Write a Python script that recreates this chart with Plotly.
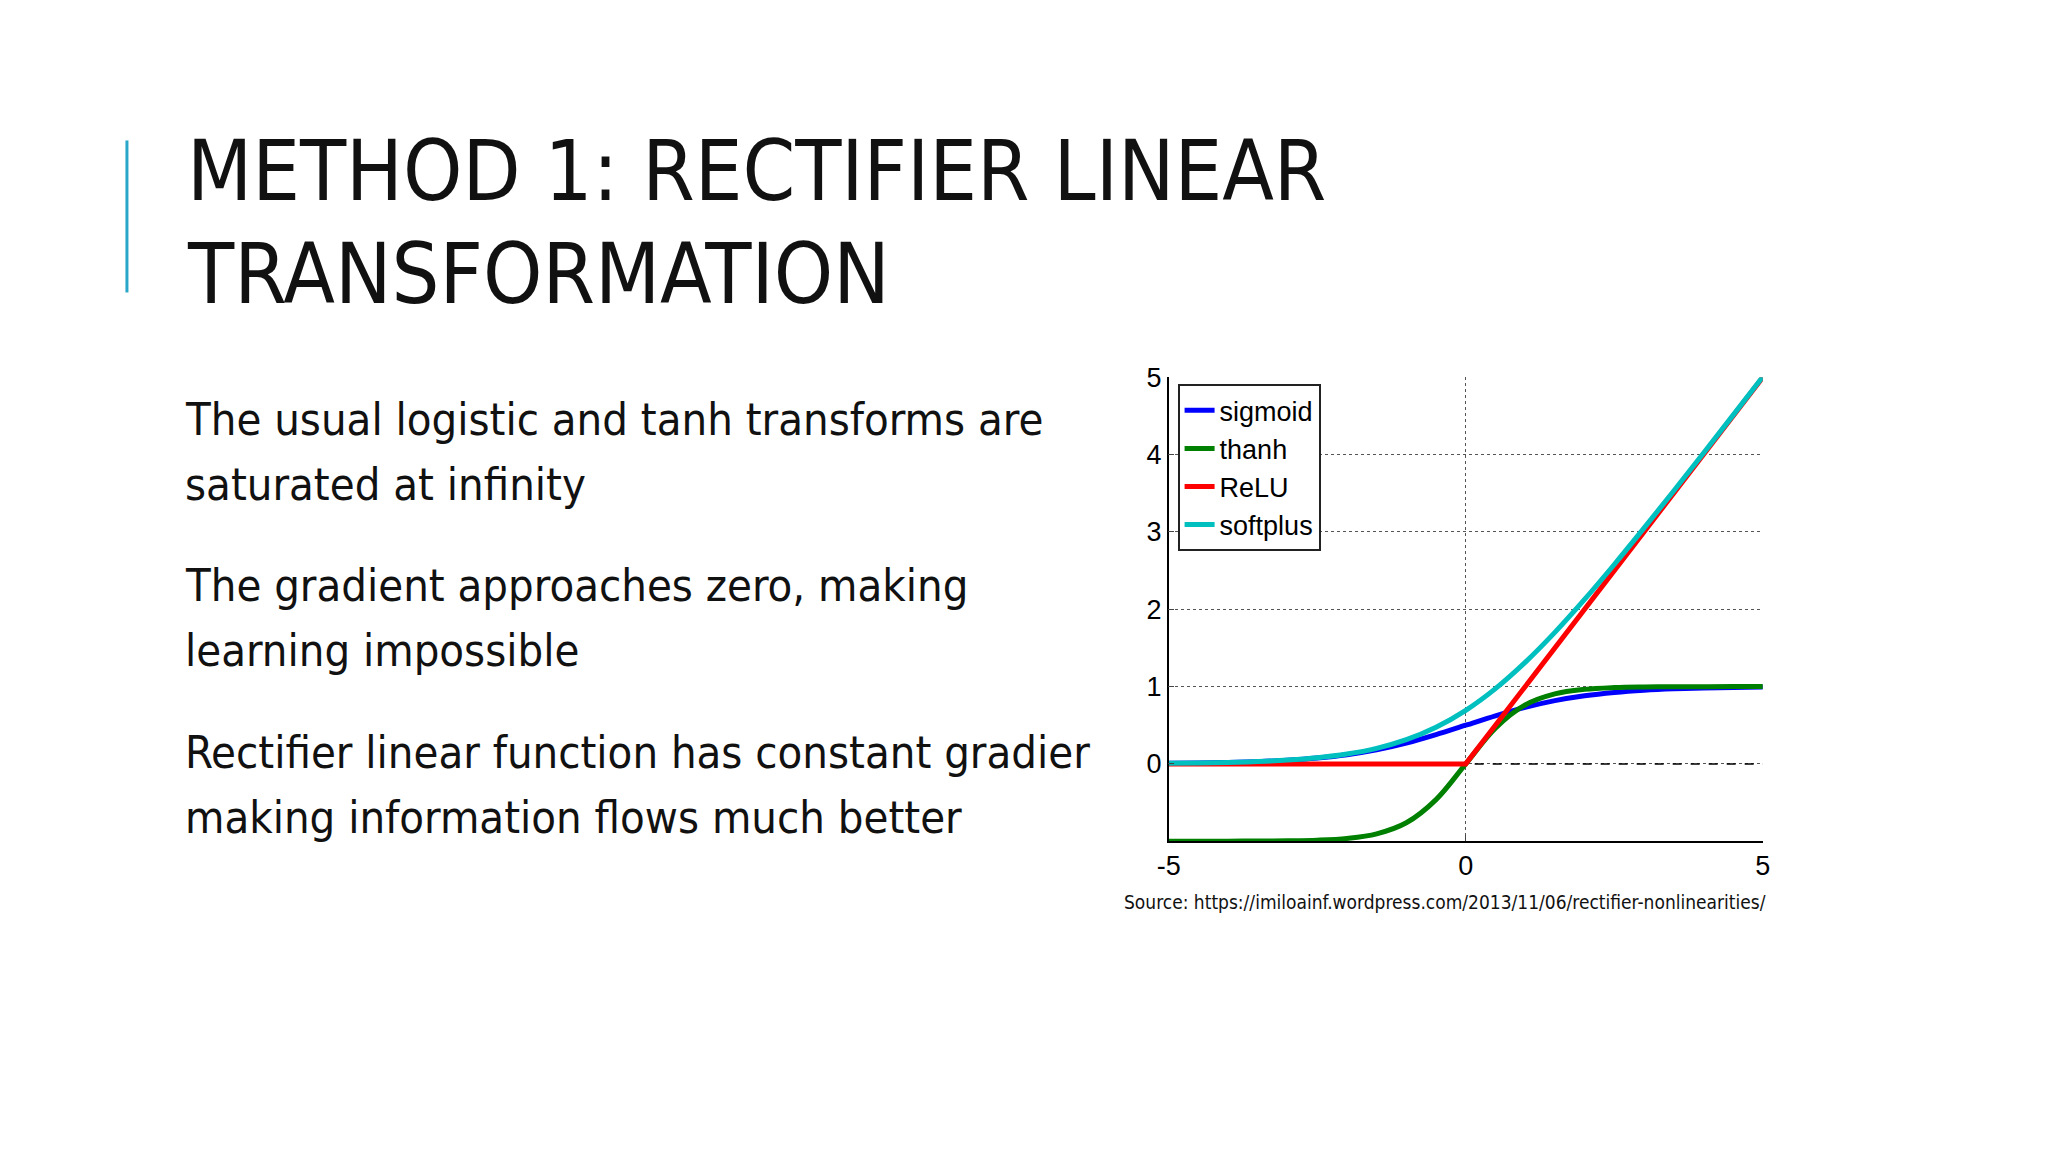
import plotly.graph_objects as go

x_s = [-5,-4.5,-4,-3.5,-3,-2.5,-2,-1.5,-1,-0.5,0,0.5,1,1.5,2,2.5,3,3.5,4,4.5,5]
sigmoid = [.007,.011,.018,.029,.047,.076,.119,.182,.269,.378,.5,.622,.731,.818,.881,.924,.953,.971,.982,.989,.993]
thanh = [-1.0,-1.0,-.999,-.998,-.995,-.987,-.964,-.905,-.762,-.462,0,.462,.762,.905,.964,.987,.995,.998,.999,1.0,1.0]
x_relu = [-5,0,5]
relu = [0,0,5]
softplus = [.007,.011,.018,.030,.049,.079,.127,.201,.313,.474,.693,.974,1.313,1.701,2.127,2.579,3.049,3.530,4.018,4.511,5.007]
x_ticks = [-5, 0, 5]
x_labels = ["-5", "0", "5"]
y_ticks = [0, 1, 2, 3, 4, 5]

W, H = 2048, 1152
DX, DY = 21, 20
fig = go.Figure()
fig.add_trace(go.Scatter(x=[-5,5], y=[0,0], mode="lines", line=dict(color="black", width=1.5, dash="dash"), showlegend=False))
for name, xs, ys, col in [("sigmoid", x_s, sigmoid, "#0000ff"), ("thanh", x_s, thanh, "#008000"),
                          ("ReLU", x_relu, relu, "#ff0000"), ("softplus", x_s, softplus, "#00bfbf")]:
    fig.add_trace(go.Scatter(x=xs, y=ys, name=name, mode="lines",
                             line=dict(color=col, width=5, shape="spline" if len(xs) > 3 else "linear")))

axis_font = dict(family="Liberation Sans, Arial", size=27, color="black")
x0p, x1p = (1181-DX)/W, (1781-DX)/W
y0p, y1p = 1-(849-DY)/H, 1-(379-DY)/H
fig.update_layout(
    width=W, height=H, margin=dict(l=0, r=0, t=0, b=0),
    paper_bgcolor="white", plot_bgcolor="white",
    xaxis=dict(domain=[x0p, x1p], range=[-5, 5], tickvals=x_ticks, ticktext=x_labels, showgrid=True,
               gridcolor="#555", griddash="dot", gridwidth=1, zeroline=False, showline=True,
               linecolor="black", linewidth=1.5, ticks="inside", ticklen=6, tickfont=axis_font),
    yaxis=dict(domain=[y0p, y1p], range=[-1, 5], tickvals=y_ticks, showgrid=True,
               gridcolor="#555", griddash="dot", gridwidth=1, zeroline=False, showline=True,
               linecolor="black", linewidth=1.5, ticks="inside", ticklen=6, tickfont=axis_font),
    legend=dict(x=(1190-DX)/W, y=1-(386-DY)/H, xref="paper", yref="paper", xanchor="left", yanchor="top",
                bgcolor="white", bordercolor="#222", borderwidth=2,
                font=dict(family="Liberation Sans, Arial", size=27, color="black"), tracegroupgap=0),
    showlegend=True,
)

fig.add_shape(type="line", xref="paper", yref="paper", x0=(129-DX)/W, x1=(129-DX)/W, y0=1-(139-DY)/H, y1=1-(293-DY)/H,
              line=dict(color="#2aa6c8", width=3))
title_font = dict(family="DejaVu Sans Condensed, DejaVu Sans", size=84, color="#111")
fig.add_annotation(text="METHOD 1: RECTIFIER LINEAR", xref="paper", yref="paper", x=(188-DX)/W, y=1-(170-DY)/H,
                   xanchor="left", yanchor="middle", showarrow=False, font=title_font)
fig.add_annotation(text="TRANSFORMATION", xref="paper", yref="paper", x=(188-DX)/W, y=1-(274-DY)/H,
                   xanchor="left", yanchor="middle", showarrow=False, font=title_font)
body_font = dict(family="DejaVu Sans Condensed, DejaVu Sans", size=45, color="#111")
lines = [("The usual logistic and tanh transforms are", 422), ("saturated at infinity", 488),
         ("The gradient approaches zero, making", 590), ("learning impossible", 656),
         ("Rectifier linear function has constant gradier", 759), ("making information flows much better", 825)]
for t, yy in lines:
    fig.add_annotation(text=t, xref="paper", yref="paper", x=(186-DX)/W, y=1-(yy-DY)/H, xanchor="left",
                       yanchor="middle", showarrow=False, font=body_font)
fig.add_annotation(text="Source: https://imiloainf.wordpress.com/2013/11/06/rectifier-nonlinearities/",
                   xref="paper", yref="paper", x=(1786-DX)/W, y=1-(911-DY)/H, xanchor="right", yanchor="middle",
                   showarrow=False, font=dict(family="DejaVu Sans Condensed, DejaVu Sans", size=19, color="#111"))
fig.write_html("out.html")
